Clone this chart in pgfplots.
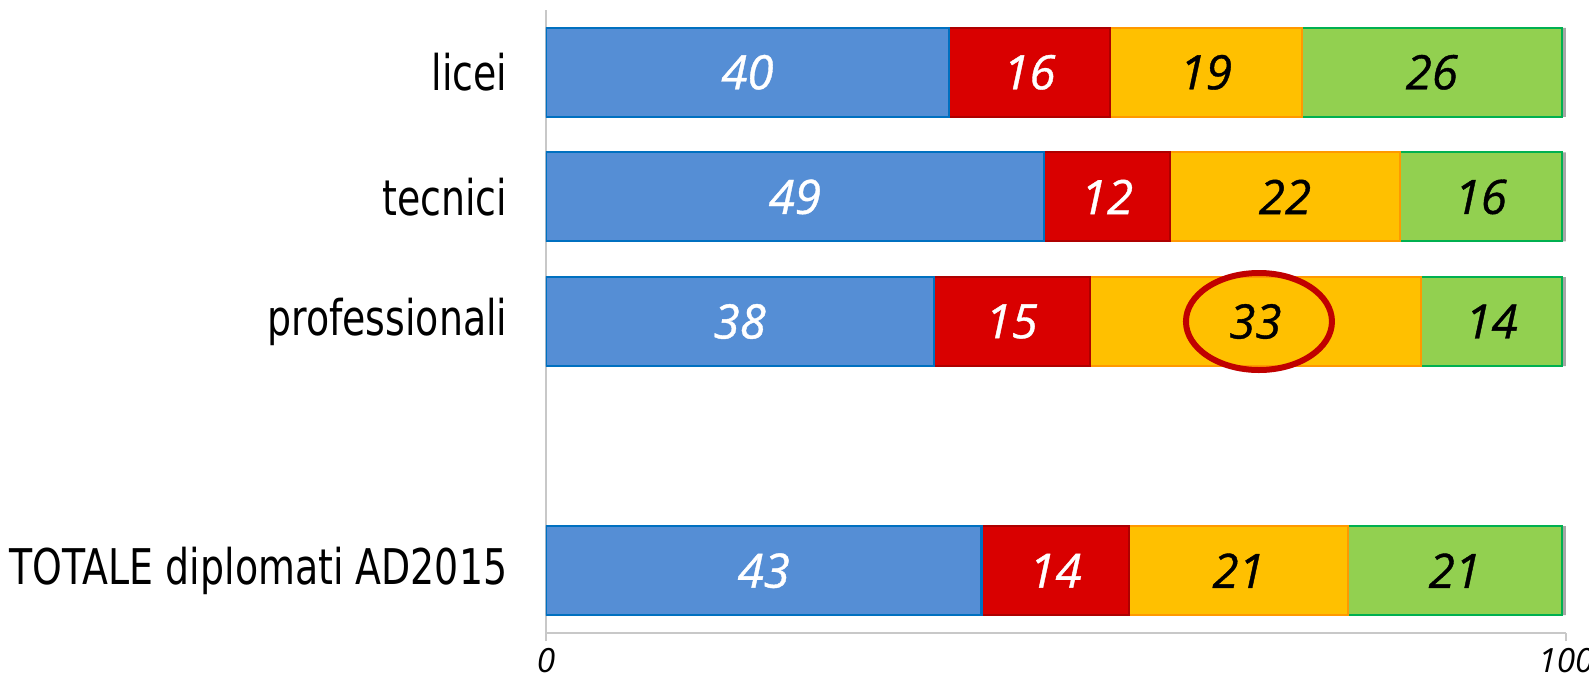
\documentclass[border=0pt]{standalone}
\usepackage{fontspec}
\setmainfont{DejaVu Sans}
\newfontfamily\numfont[FakeBold=0.8]{Open Sans}
\newfontfamily\tickfont{Open Sans}
\usepackage{graphicx}
\usepackage{pgfplots}
\usepackage{pgfplotstable}
\pgfplotsset{compat=1.18}
\definecolor{cblue}{HTML}{558ED5}
\definecolor{cblueE}{HTML}{0070C0}
\definecolor{cred}{HTML}{D90000}
\definecolor{credE}{HTML}{C00000}
\definecolor{cyel}{HTML}{FFC000}
\definecolor{cyelE}{HTML}{FF9900}
\definecolor{cgreen}{HTML}{92D050}
\definecolor{cgreenE}{HTML}{00B050}
\definecolor{cgray}{HTML}{A6A6A6}
\definecolor{axgray}{HTML}{C8C8C8}
\newcommand\lab[1]{\scalebox{0.77}[1]{#1}}
\pgfplotstableread{
y a la b lb c lc d ld e
0 39.5 40 15.8 16 18.8 19 25.5 26 0.4
1 48.8 49 12.4 12 22.5 22 15.9 16 0.4
2 38.0 38 15.3 15 32.5 33 13.8 14 0.4
4 42.7 43 14.5 14 21.4 21 21.0 21 0.4
}\data
\begin{document}
\begin{tikzpicture}
\begin{axis}[
  at={(0,0)}, anchor=south west,
  scale only axis, width=10.2cm, height=6.23cm,
  xbar stacked, bar width=0.89cm,
  xmin=0, xmax=100, ymin=-0.5, ymax=4.5, y dir=reverse,
  axis x line*=bottom, axis y line*=left,
  axis line style={-, draw=axgray, line width=0.8pt},
  xtick={0,100}, ytick={0,1,2,4},
  yticklabels={\lab{licei},\lab{tecnici},\lab{professionali},\lab{TOTALE diplomati AD2015}},
  tick align=outside, major tick length=0.08cm,
  xtick style={draw=axgray, line width=0.8pt},
  ytick style={draw=none},
  /pgf/number format/assume math mode=true,
  xticklabel style={font=\tickfont\itshape\fontsize{9.5}{9.5}\selectfont, anchor=north, inner sep=0pt, yshift=-0.07cm},
  yticklabel style={font=\fontsize{14}{14}\selectfont, anchor=east, inner sep=0pt, xshift=-0.30cm},
  nodes near coords,
  point meta=explicit symbolic,
  every node near coord/.append style={font=\numfont\itshape\fontsize{13.5}{13.5}\selectfont},
]
\addplot[fill=cblue, draw=cblueE, line width=0.6pt, nodes near coords style={text=white}] table[x=a, y=y, meta=la] {\data};
\addplot[fill=cred, draw=cred!80!black, line width=0.6pt, nodes near coords style={text=white}] table[x=b, y=y, meta=lb] {\data};
\addplot[fill=cyel, draw=cyelE, line width=0.6pt, nodes near coords style={text=black}] table[x=c, y=y, meta=lc] {\data};
\addplot[fill=cgreen, draw=cgreenE, line width=0.6pt, nodes near coords style={text=black}] table[x=d, y=y, meta=ld] {\data};
\addplot[fill=cgray, draw=none, nodes near coords={}] table[x=e, y=y] {\data};
\coordinate (ell) at (axis cs:69.9,2);
\end{axis}
\draw[credE, line width=0.06cm] (ell) ellipse [x radius=0.73cm, y radius=0.485cm];
\pgfresetboundingbox
\path (-5.46cm,-0.42cm) rectangle (10.43cm,6.33cm);
\end{tikzpicture}
\end{document}
